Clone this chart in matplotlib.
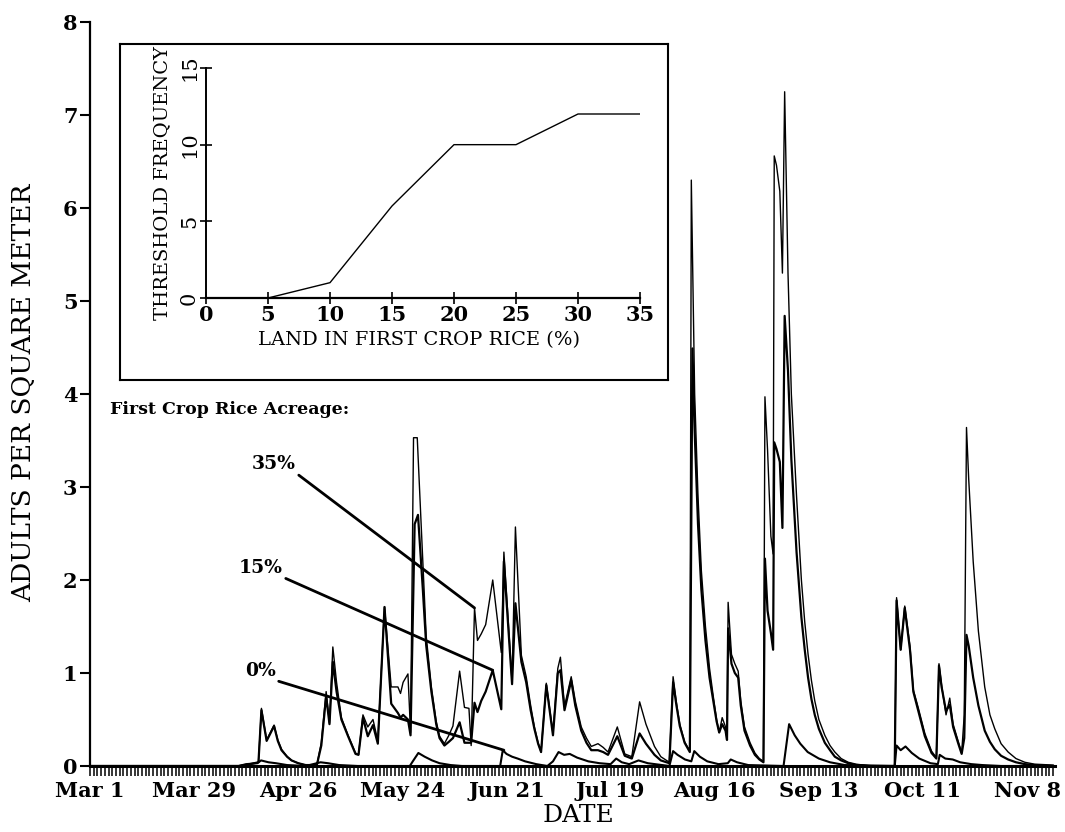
import numpy as np
import matplotlib
matplotlib.use('Agg')
import matplotlib.pyplot as plt

plt.rcParams['font.family'] = 'DejaVu Serif'

# days after Mar 1 and adults per square meter, one list per acreage run
DAYS_35 = [0, 40, 43, 45.3, 46.1, 47.5, 49.5, 50.5, 51.5, 53, 54.2, 56, 58, 61, 62.2, 63.5, 64.4, 65.3,
           66.3, 67.6, 69.4, 71.4, 72.2, 73.4, 74.7, 76.1, 77.4, 79.2, 81, 82.8, 83.5, 84.2, 85.5, 86.2,
           87, 88, 89.5, 90.4, 91.8, 93.1, 94, 95.3, 96.5, 97.6, 99.4, 100.7, 101.9, 102.5, 103.4, 104.2,
           105.2, 106.4, 108.3, 110.6, 111.3, 113.5, 114.4, 116, 117.3, 118.5, 119.5, 120.5, 121.3, 122.7,
           124.5, 125.8, 126.5, 127.6, 129.4, 130.5, 132.1, 133.5, 134.8, 136.6, 138, 139.3, 141.8, 143.8,
           145.7, 147.8, 149.5, 151.8, 153.5, 155.8, 156.8, 157.7, 158.6, 159.9, 161.3, 161.7, 162.6, 163.5,
           164.4, 165.5, 166.6, 167.6, 168.5, 169.2, 170, 170.9, 171.3, 171.6, 172.5, 173.4, 174.3, 175,
           176, 177.5, 178.8, 180, 181.1, 181.5, 182.2, 183.1, 183.7, 184, 184.6, 185.5, 186.2, 186.8,
           187.7, 188.6, 190, 191.3, 192.2, 193.1, 194, 194.9, 196, 197.6, 199, 200.3, 202, 203.9, 206,
           210, 216.4, 216.9, 218, 219.1, 220.5, 221.4, 222.7, 224.5, 226.3, 227.6, 228.3, 229, 230.2,
           231.2, 232.1, 233.5, 234.4, 235.1, 235.7, 236.3, 237.5, 238.9, 240.6, 242, 243.3, 245, 246.9,
           249, 251.4, 254, 259]
ADULTS_35 = [0, 0, 0.02, 0.04, 0.62, 0.28, 0.44, 0.28, 0.18, 0.1, 0.06, 0.03, 0.01, 0.01, 0.25, 0.8, 0.46, 1.28,
             0.9, 0.52, 0.33, 0.14, 0.12, 0.55, 0.42, 0.5, 0.27, 1.71, 0.85, 0.85, 0.78, 0.9, 0.99, 0.36,
             3.53, 3.53, 2.2, 1.4, 0.85, 0.48, 0.32, 0.24, 0.33, 0.43, 1.02, 0.63, 0.62, 0.22, 1.7, 1.35,
             1.42, 1.52, 2.0, 1.22, 2.3, 0.9, 2.57, 1.19, 0.96, 0.65, 0.42, 0.25, 0.15, 0.89,
             0.35, 1.05, 1.17, 0.64, 0.96, 0.7, 0.42, 0.3, 0.21, 0.24, 0.2, 0.15, 0.42, 0.13,
             0.1, 0.69, 0.45, 0.21, 0.1, 0.04, 0.96, 0.68, 0.45, 0.26, 0.16, 6.3, 4.0, 2.9,
             2.1, 1.5, 1.05, 0.75, 0.5, 0.36, 0.52, 0.42, 0.3, 1.76, 1.2, 1.1, 1.02, 0.7,
             0.42, 0.25, 0.14, 0.08, 0.05, 3.97, 3.4, 2.47, 2.28, 6.56, 6.46, 6.18, 5.3, 7.25,
             5.3, 4.0, 2.9, 2.0, 1.55, 1.2, 0.92, 0.7, 0.5, 0.33, 0.22, 0.15, 0.08, 0.04, 0.02,
             0, 0, 1.81, 1.25, 1.72, 1.29, 0.82, 0.63, 0.35, 0.16, 0.09, 1.1, 0.87, 0.55,
             0.73, 0.45, 0.26, 0.14, 0.55, 3.64, 3.08, 2.2, 1.45, 0.85, 0.55, 0.4, 0.24, 0.15,
             0.08, 0.04, 0.02, 0.01]

DAYS_15 = [0, 40, 43, 45.3, 46.1, 47.5, 49.5, 50.5, 51.5, 53, 54.2, 56, 58, 61, 62.2, 63.5, 64.4, 65.3,
           66.3, 67.6, 69.4, 71.4, 72.2, 73.4, 74.7, 76.1, 77.4, 79.2, 81, 82.8, 83.5, 84.2, 85.5, 86.2,
           87.3, 88.2, 89.5, 90.4, 91.8, 93.1, 94, 95.3, 96.5, 97.6, 99.4, 100.7, 102.5, 103.4, 104.2,
           105.2, 106.4, 108.3, 110.6, 111.3, 113.5, 114.4, 116, 117.3, 118.5, 119.5, 120.5, 121.3, 122.7,
           124.5, 125.8, 126.5, 127.6, 129.4, 130.5, 132.1, 133.5, 134.8, 136.6, 138, 139.3, 141.8, 143.8,
           145.7, 147.8, 149.5, 151.8, 153.5, 155.8, 156.8, 157.7, 158.6, 159.9, 161.3, 162, 162.6, 163.5,
           164.4, 165.5, 166.6, 167.6, 168.5, 169.2, 170, 170.9, 171.3, 171.6, 172.5, 173.4, 174.3, 175,
           176, 177.5, 178.8, 180, 181.1, 181.5, 182.2, 183.1, 183.7, 184, 184.6, 185.5, 186.2, 186.8,
           187.7, 188.6, 190, 191.3, 192.2, 193.1, 194, 194.9, 196, 197.6, 199, 200.3, 202, 203.9, 206,
           210, 216.4, 216.9, 218, 219.1, 220.5, 221.4, 222.7, 224.5, 226.3, 227.6, 228.3, 229, 230.2,
           231.2, 232.1, 233.5, 234.4, 235.1, 235.7, 236.3, 237.5, 238.9, 240.6, 242, 243.3, 245, 246.9,
           249, 251.4, 254, 259]
ADULTS_15 = [0, 0, 0.02, 0.04, 0.6, 0.27, 0.43, 0.27, 0.17, 0.1, 0.06, 0.03, 0.01, 0.01, 0.22, 0.75, 0.45, 1.12,
             0.8, 0.5, 0.32, 0.13, 0.12, 0.52, 0.32, 0.44, 0.24, 1.71, 0.67, 0.57, 0.52, 0.55, 0.5, 0.33,
             2.6, 2.7, 1.9, 1.3, 0.8, 0.45, 0.3, 0.22, 0.26, 0.3, 0.47, 0.25, 0.25, 0.68, 0.58,
             0.7, 0.8, 1.03, 0.61, 2.2, 0.88, 1.75, 1.12, 0.9, 0.6, 0.4, 0.24, 0.15, 0.87,
             0.33, 1.0, 1.03, 0.6, 0.92, 0.65, 0.38, 0.25, 0.17, 0.17, 0.15, 0.12, 0.32, 0.11,
             0.08, 0.35, 0.24, 0.12, 0.06, 0.03, 0.9, 0.65, 0.43, 0.25, 0.15, 4.49, 3.6, 2.6,
             1.9, 1.35, 0.95, 0.7, 0.48, 0.36, 0.45, 0.38, 0.28, 1.48, 1.1, 1.0, 0.95, 0.65,
             0.38, 0.22, 0.12, 0.07, 0.04, 2.23, 1.67, 1.43, 1.25, 3.48, 3.41, 3.27, 2.56, 4.84,
             4.25, 3.3, 2.3, 1.6, 1.25, 0.95, 0.72, 0.55, 0.4, 0.25, 0.17, 0.1, 0.06, 0.03, 0.01,
             0, 0, 1.78, 1.25, 1.7, 1.25, 0.8, 0.6, 0.32, 0.14, 0.08, 1.08, 0.85, 0.59,
             0.66, 0.42, 0.24, 0.13, 0.3, 1.41, 1.29, 0.95, 0.65, 0.38, 0.26, 0.18, 0.11, 0.07,
             0.04, 0.02, 0.01, 0]

DAYS_0 = [0, 40, 42, 45, 46, 48, 50, 53, 58, 60, 62, 64, 67, 72, 86, 86.8, 88.3, 90, 92, 94, 97, 100,
          110.3, 111, 112, 113.5, 115, 117, 120, 123, 124.5, 126, 127.5, 129, 131, 134, 137, 140, 141.5,
          143, 145, 147.5, 150, 155.8, 156.8, 158, 160, 161.7, 162.5, 164, 166, 169, 171.5, 172.3, 174,
          177, 186.5, 188, 189.5, 191, 193, 196, 199, 203, 216.4, 216.9, 218, 219.3, 221, 223, 226, 228,
          228.5, 230, 232, 234, 237, 240, 245, 259]
ADULTS_0 = [0, 0, 0.02, 0.03, 0.06, 0.04, 0.03, 0.01, 0, 0.02, 0.04, 0.03, 0.01, 0, 0, 0.05, 0.14, 0.1, 0.06, 0.03, 0.01, 0,
            0, 0.17, 0.13, 0.1, 0.08, 0.05, 0.02, 0, 0.05, 0.15, 0.12, 0.13, 0.09, 0.05, 0.03, 0.02, 0.08,
            0.04, 0.02, 0.06, 0.03, 0, 0.16, 0.12, 0.07, 0.05, 0.16, 0.1, 0.05, 0.02, 0.03, 0.07, 0.04,
            0.01, 0, 0.45, 0.33, 0.24, 0.15, 0.08, 0.04, 0.01, 0, 0.22, 0.17, 0.21, 0.14, 0.08, 0.03, 0.02,
            0.12, 0.08, 0.07, 0.04, 0.02, 0.01, 0, 0]

TICK_DAYS = [0, 28, 56, 84, 112, 140, 168, 196, 224, 252]
TICK_LABELS = ['Mar 1', 'Mar 29', 'Apr 26', 'May 24', 'Jun 21', 'Jul 19', 'Aug 16', 'Sep 13', 'Oct 11', 'Nov 8']

# inset: threshold frequency vs percent of land in first crop rice
LAND_PCT = [5, 10, 15, 20, 25, 30, 35]
THRESH_FREQ = [0, 1, 6, 10, 10, 12, 12]

# label text, where it sits, and the point of the curve it points to
LABELS = [('35%', (55.4, 3.15), (103.4, 1.70)),
          ('15%', (51.9, 2.03), (108.3, 1.03)),
          ('0%', (50.0, 0.92), (111.3, 0.17))]

W, H = 1065, 832
fig = plt.figure(figsize=(W / 100, H / 100), dpi=100)
ax = fig.add_axes([90 / W, 66 / H, 965 / W, 744 / H])

ax.plot(DAYS_35, ADULTS_35, color='black', lw=1.0)
ax.plot(DAYS_15, ADULTS_15, color='black', lw=1.6)
ax.plot(DAYS_0, ADULTS_0, color='black', lw=1.5)

ax.set_xlim(0, 259.5)
ax.set_ylim(0, 8)
for side in ['top', 'right']:
    ax.spines[side].set_visible(False)
ax.spines['bottom'].set_linewidth(2.2)
ax.spines['left'].set_linewidth(1.6)

ax.set_xticks(TICK_DAYS)
ax.set_xticklabels(TICK_LABELS, fontweight='bold', fontsize=15)
ax.set_xticks(np.arange(0, 260), minor=True)
ax.tick_params(axis='x', which='both', direction='out', length=7, width=1.1, pad=4)
ax.set_yticks(range(0, 9))
ax.set_yticklabels([str(v) for v in range(0, 9)], fontweight='bold', fontsize=15)
ax.tick_params(axis='y', direction='out', length=7, width=1.5, pad=2)

fig.text(24 / W, 1 - 393 / H, 'ADULTS PER SQUARE METER', rotation=90, ha='center', va='center', fontsize=19)
fig.text(578 / W, 1 - 816 / H, 'DATE', ha='center', va='center', fontsize=18)

ax.text(5.4, 3.83, 'First Crop Rice Acreage:', fontweight='bold', fontsize=12.5, ha='left', va='center')
for text, start, end in LABELS:
    ax.annotate(text, xy=end, xytext=start, ha='right', va='bottom', fontweight='bold', fontsize=13.5,
                arrowprops=dict(arrowstyle='-', lw=2, color='black', shrinkA=0, shrinkB=0, relpos=(1, 0)))

# framed inset
frame = fig.add_axes([120 / W, 1 - 380 / H, 548 / W, 336 / H])
frame.set_xticks([])
frame.set_yticks([])
for sp in frame.spines.values():
    sp.set_linewidth(1.5)

inset = fig.add_axes([206 / W, 1 - 298 / H, 434 / W, 230 / H])
inset.patch.set_alpha(0)
inset.plot(LAND_PCT, THRESH_FREQ, color='black', lw=1.0)
inset.set_xlim(0, 35)
inset.set_ylim(0, 15)
for side in ['top', 'right']:
    inset.spines[side].set_visible(False)
inset.spines['left'].set_linewidth(1.4)
inset.spines['bottom'].set_linewidth(1.6)
inset.set_xticks(range(0, 36, 5))
inset.set_xticklabels([str(v) for v in range(0, 36, 5)], fontsize=15, fontweight='bold')
inset.set_yticks([0, 5, 10, 15])
inset.set_yticklabels(['0', '5', '10', '15'], fontsize=15, rotation=90, va='center')
inset.tick_params(axis='both', direction='inout', length=8, width=1.2)
inset.tick_params(axis='x', pad=1)
inset.tick_params(axis='y', pad=1)

fig.text(419 / W, 1 - 340 / H, 'LAND IN FIRST CROP RICE (%)', ha='center', va='center', fontsize=14)
fig.text(162 / W, 1 - 183 / H, 'THRESHOLD FREQUENCY', rotation=90, ha='center', va='center', fontsize=14)

fig.savefig('out.png', dpi=100)
